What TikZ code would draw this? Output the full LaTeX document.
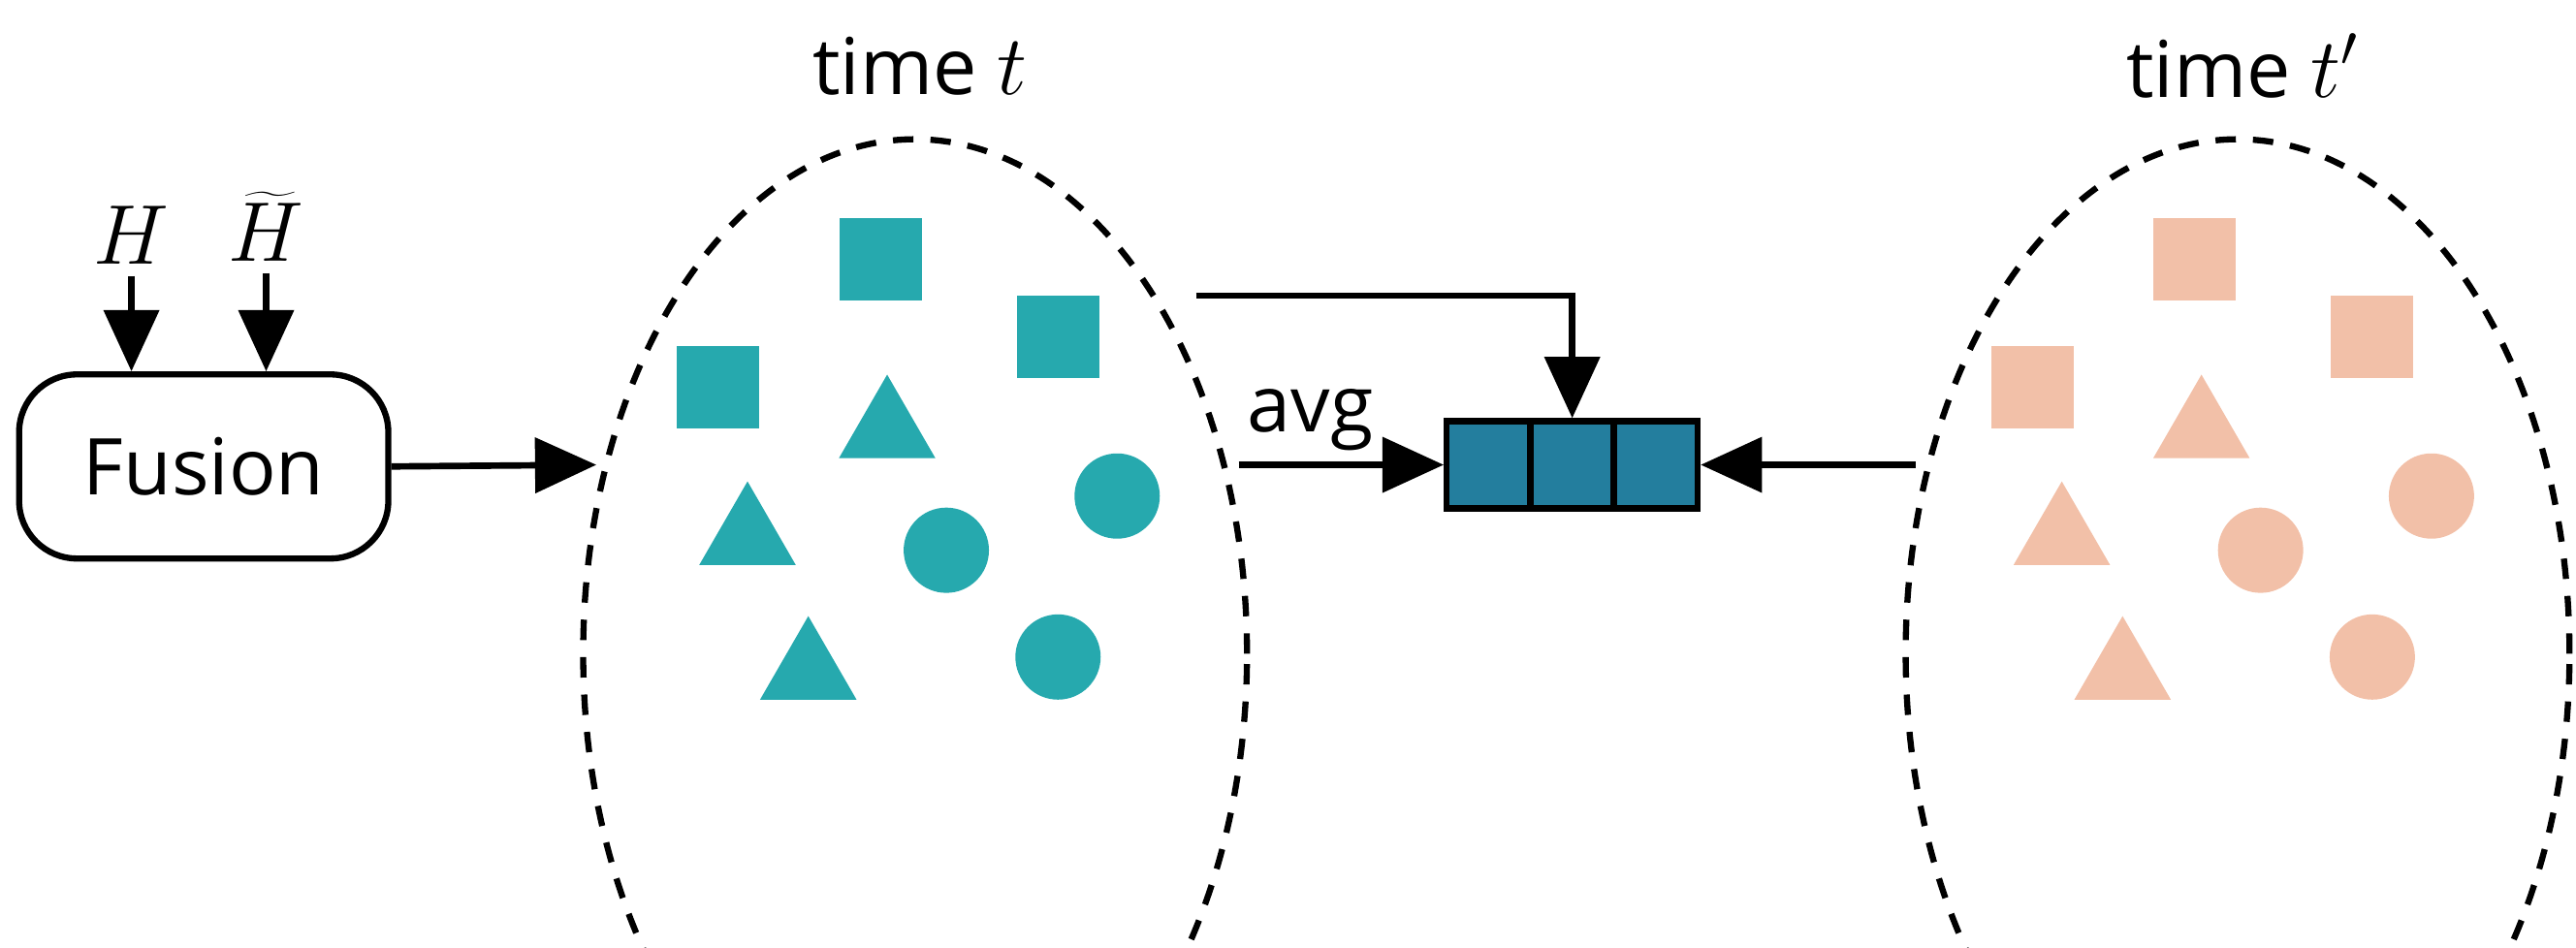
\documentclass[tikz,border=0pt]{standalone}
\usepackage{fontspec}
\setmainfont{Open Sans}
\usetikzlibrary{arrows.meta,shapes.geometric}
\definecolor{teal1}{HTML}{26A9AE}
\definecolor{pink1}{HTML}{F2C0A8}
\definecolor{arr}{HTML}{237E9E}
\begin{document}
\begin{tikzpicture}[x=0.016945cm,y=-0.016945cm,
  lbl/.style={font=\fontsize{23}{27}\selectfont},
  con/.style={line width=1.9pt,-{Triangle[length=18pt,width=16pt]}},
  ell/.style={draw,dashed,dash pattern=on 6pt off 5pt,line width=1.8pt,ellipse,minimum width=6.85cm,minimum height=10.62cm},
  sq/.style={rectangle,minimum size=0.85cm,inner sep=0pt},
  tri/.style={regular polygon,regular polygon sides=3,minimum size=1.15cm,inner sep=0pt},
  cir/.style={circle,minimum size=0.88cm,inner sep=0pt}]
\useasboundingbox (0,0) rectangle (1568,577);
\node[draw,rounded corners=17pt,line width=1.8pt,minimum width=3.81cm,minimum height=1.9cm,lbl] (fus) at (124,284) {Fusion};
\node[font=\fontsize{30}{34}\selectfont] (h1) at (80,143) {$H$};
\node[font=\fontsize{30}{34}\selectfont] (h2) at (162,138) {$\widetilde{H}$};
\draw[con] (h1.south) -- (h1.south |- fus.north);
\draw[con] (h2.south) -- (h2.south |- fus.north);
\node[ell] (c1) at (557,398) {};
\node[ell] (c2) at (1362,398) {};
\coordinate (c1w) at (363,283);
\coordinate (c1e) at (754,283);
\coordinate (c2w) at (1166,283);
\coordinate (s) at (728,180);
\node[lbl] (t1) at (560,40) {time $t$};
\node[lbl] (t2) at (1365,40) {time $t'$};
\node[lbl] (p1) at (560,928) {positive pair};
\node[lbl] (p2) at (1360,928) {negative pair};
\draw[con] (fus.east) -- (c1w);
% array
\foreach \i/\x in {a/906,b/957,c/1008}
  \node[draw,fill=arr,line width=1.8pt,minimum width=0.86cm,minimum height=0.9cm,inner sep=0pt] (\i) at (\x,283) {};
\draw[con] (c1e) -- node[above,lbl,pos=0.35] {avg} (a.west);
\draw[con] (s) -| (b.north);
\draw[con] (c2w) -- (c.east);
% shapes
\foreach \o/\col in {0/teal1,800/pink1}{
  \node[sq,fill=\col] at (536+\o,158) {};
  \node[sq,fill=\col] at (644+\o,205) {};
  \node[sq,fill=\col] at (437+\o,236) {};
  \node[tri,fill=\col] at (540+\o,262) {};
  \node[tri,fill=\col] at (455+\o,327) {};
  \node[tri,fill=\col] at (492+\o,409) {};
  \node[cir,fill=\col] at (680+\o,302) {};
  \node[cir,fill=\col] at (576+\o,335) {};
  \node[cir,fill=\col] at (644+\o,400) {};
}
\end{tikzpicture}
\end{document}
